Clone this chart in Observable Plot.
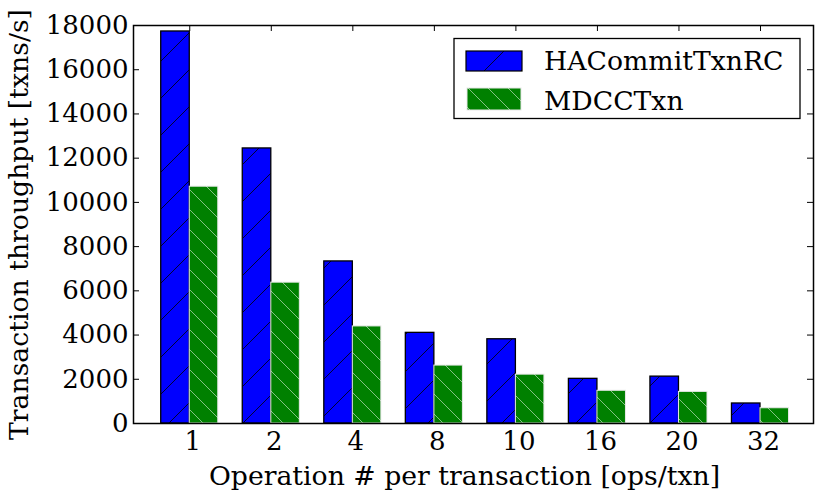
<!DOCTYPE html>
<html>
<head>
<meta charset="utf-8">
<script src="https://cdn.jsdelivr.net/npm/d3@7"></script>
<script src="https://cdn.jsdelivr.net/npm/@observablehq/plot@0.6"></script>
<style>
  html, body { margin: 0; padding: 0; background: white; }
  #chart { width: 830px; height: 498px; }
</style>
</head>
<body>
<div id="chart"></div>
<script>
// ---- data ----
const categories = ["1", "2", "4", "8", "10", "16", "20", "32"];
const haCommitTxnRC = [17730, 12440, 7330, 4100, 3810, 2020, 2120, 905];
const mdccTxn = [10710, 6370, 4390, 2620, 2210, 1480, 1430, 690];
const seriesNames = ["HACommitTxnRC", "MDCCTxn"];
const yTicks = [0, 2000, 4000, 6000, 8000, 10000, 12000, 14000, 16000, 18000];
const xLabel = "Operation # per transaction [ops/txn]";
const yLabel = "Transaction throughput [txns/s]";

// ---- layout ----
const W = 830, H = 498;
const mL = 133, mR = 17, mT = 25, mB = 75;
const plotW = W - mL - mR, plotH = H - mT - mB;
const barW = 0.35;
const tickLen = 6;
const font = "DejaVu Serif";

const idx = categories.map((_, i) => i);
const rowsA = categories.map((c, i) => ({i, cat: c, series: seriesNames[0], value: haCommitTxnRC[i]}));
const rowsB = categories.map((c, i) => ({i, cat: c, series: seriesNames[1], value: mdccTxn[i]}));

const chart = Plot.plot({
  width: W,
  height: H,
  marginLeft: mL,
  marginRight: mR,
  marginTop: mT,
  marginBottom: mB,
  style: {fontFamily: font, fontSize: "26px", background: "white", color: "black"},
  x: {type: "linear", domain: [-0.69, 7.65], label: null},
  y: {type: "linear", domain: [0, 18000], label: null},
  marks: [
    // inward ticks
    Plot.tickY(yTicks, {y: d => d, insetRight: plotW - tickLen, stroke: "black"}),
    Plot.tickY(yTicks, {y: d => d, insetLeft: plotW - tickLen, stroke: "black"}),
    Plot.tickX(idx, {x: d => d, insetBottom: plotH - tickLen, stroke: "black"}),
    Plot.tickX(idx, {x: d => d, insetTop: plotH - tickLen, stroke: "#555"}),
    // bars
    Plot.rectY(rowsA, {x1: d => d.i - barW, x2: d => d.i, y: "value", fill: "url(#hatchBlue)", stroke: "black", strokeWidth: 1.3}),
    Plot.rectY(rowsB, {x1: d => d.i, x2: d => d.i + barW, y: "value", fill: "url(#hatchGreen)", stroke: "#e8e8e8", strokeWidth: 1}),
    // axes labels
    Plot.axisX(idx, {tickFormat: i => categories[i], tickSize: 0, tickPadding: 8.5, fontSize: 26, dx: 3, label: null}),
    Plot.axisY(yTicks, {tickFormat: d => String(d), tickSize: 0, tickPadding: 5, fontSize: 26, label: null}),
    Plot.text([xLabel], {frameAnchor: "bottom", text: d => d, dx: -9, dy: 53, textAnchor: "middle", lineAnchor: "middle", fontSize: 26.7}),
    Plot.text([yLabel], {frameAnchor: "left", text: d => d, dx: -114, rotate: -90, textAnchor: "middle", lineAnchor: "middle", fontSize: 26.7}),
    Plot.frame({stroke: "black", strokeWidth: 1.5})
  ]
});

document.getElementById("chart").appendChild(chart);

// ---- hatch patterns ----
const svg = d3.select(chart);
const defs = svg.insert("defs", ":first-child");
const sb = 37;
const pb = defs.append("pattern").attr("id", "hatchBlue").attr("patternUnits", "userSpaceOnUse")
  .attr("width", sb).attr("height", sb);
pb.append("rect").attr("width", sb).attr("height", sb).attr("fill", "#0000ff");
pb.append("path").attr("d", `M0,${sb}L${sb},0M${-sb/2},${sb/2}L${sb/2},${-sb/2}M${sb/2},${sb*1.5}L${sb*1.5},${sb/2}`)
  .attr("stroke", "black").attr("stroke-width", 0.8).attr("fill", "none");
const sg = 20;
const pg = defs.append("pattern").attr("id", "hatchGreen").attr("patternUnits", "userSpaceOnUse")
  .attr("width", sg).attr("height", sg);
pg.append("rect").attr("width", sg).attr("height", sg).attr("fill", "#008000");
pg.append("path").attr("d", `M0,0L${sg},${sg}M${-sg/2},${sg/2}L${sg/2},${sg*1.5}M${sg/2},${-sg/2}L${sg*1.5},${sg/2}`)
  .attr("stroke", "white").attr("stroke-width", 0.8).attr("stroke-opacity", 0.65).attr("fill", "none");

// ---- legend ----
const lg = svg.append("g").attr("font-family", font).attr("font-size", 26.7).attr("text-anchor", "start");
lg.append("rect").attr("x", 454).attr("y", 38.5).attr("width", 346).attr("height", 80)
  .attr("fill", "white").attr("stroke", "black").attr("stroke-width", 1.3);
lg.append("rect").attr("x", 466).attr("y", 51).attr("width", 56).attr("height", 20)
  .attr("fill", "url(#hatchBlue)").attr("stroke", "black").attr("stroke-width", 1.2);
lg.append("rect").attr("x", 467).attr("y", 88).attr("width", 54).attr("height", 22)
  .attr("fill", "url(#hatchGreen)").attr("stroke", "#e8e8e8").attr("stroke-width", 1);
lg.append("text").attr("x", 544).attr("y", 70).attr("fill", "black").text(seriesNames[0]);
lg.append("text").attr("x", 544).attr("y", 110).attr("fill", "black").text(seriesNames[1]);
</script>
</body>
</html>
